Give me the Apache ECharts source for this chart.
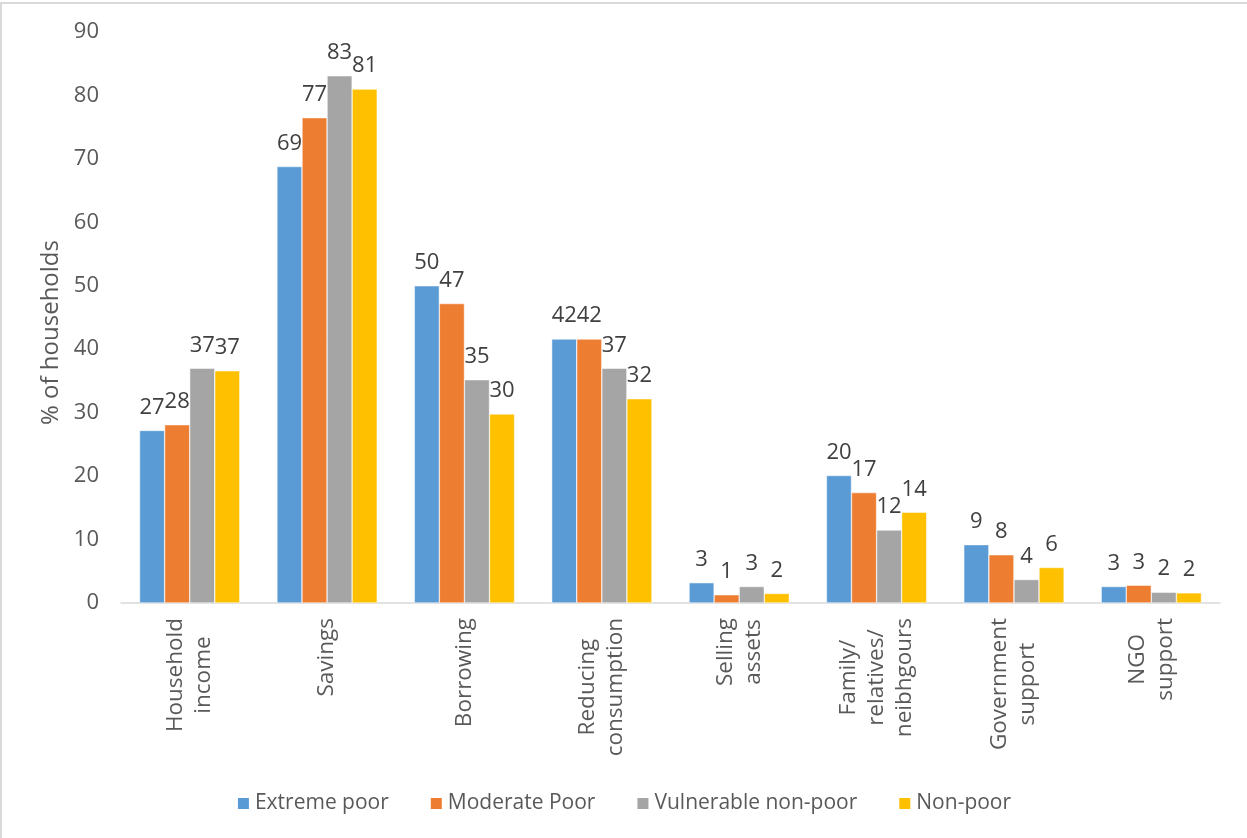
<!DOCTYPE html>
<html>
<head>
<meta charset="utf-8">
<title>Coping strategies by poverty status</title>
<script src="https://cdn.jsdelivr.net/npm/echarts@6/dist/echarts.min.js"></script>
<style>
  html, body { margin: 0; padding: 0; background: #fff; }
  #frame {
    position: absolute; left: 0; top: 2px; width: 1245px; height: 834px;
    border-left: 2px solid #d9d9d9; border-top: 2px solid #d9d9d9;
  }
  #chart { position: absolute; left: 0; top: 0; width: 1247px; height: 838px; }
</style>
</head>
<body>
<div id="frame"></div>
<div id="chart"></div>
<script>
// Coping strategies used by households, by poverty status (% of households)
const categories = [
  'Household\nincome',
  'Savings',
  'Borrowing',
  'Reducing\nconsumption',
  'Selling\nassets',
  'Family/\nrelatives/\nneibhgours',
  'Government\nsupport',
  'NGO\nsupport'
];
const seriesNames = ['Extreme poor', 'Moderate Poor', 'Vulnerable non-poor', 'Non-poor'];
const extremePoor   = [27.2, 68.8, 50.0, 41.6, 3.2, 20.1, 9.2, 2.6];
const moderatePoor  = [28.1, 76.5, 47.2, 41.6, 1.3, 17.4, 7.6, 2.8];
const vulnerable    = [37.0, 83.1, 35.2, 37.0, 2.6, 11.5, 3.7, 1.7];
const nonPoor       = [36.6, 81.0, 29.8, 32.2, 1.5, 14.3, 5.6, 1.6];
const colors = ['#5B9BD5', '#ED7D31', '#A5A5A5', '#FFC000'];
const yMin = 0, yMax = 90, yStep = 10;

const FONT = 'Open Sans';
const seriesData = [extremePoor, moderatePoor, vulnerable, nonPoor];

const chart = echarts.init(document.getElementById('chart'), null, { renderer: 'canvas' });

chart.setOption({
  animation: false,
  textStyle: { fontFamily: FONT },
  grid: { left: 121, right: 27, top: 32, bottom: 235, containLabel: false },
  legend: {
    top: 788,
    left: 'center',
    itemWidth: 13,
    itemHeight: 13,
    itemGap: 40,
    icon: 'rect',
    textStyle: { fontFamily: FONT, fontSize: 21, color: '#595959' },
    data: seriesNames
  },
  xAxis: {
    type: 'category',
    data: categories,
    axisLine: { show: true, lineStyle: { color: '#d9d9d9', width: 1.5 } },
    axisTick: { show: false },
    axisLabel: {
      interval: 0,
      rotate: 90,
      margin: 15,
      color: '#595959',
      fontFamily: FONT,
      fontSize: 22.5,
      lineHeight: 28,
      formatter: function (v) {
        return v.split('\n').map(function (s) { return '{c|' + s + '}'; }).join('\n');
      },
      rich: {
        c: { align: 'center', fontFamily: FONT, fontSize: 22.5, color: '#595959', lineHeight: 28 }
      }
    }
  },
  yAxis: {
    type: 'value',
    min: yMin,
    max: yMax,
    interval: yStep,
    axisLine: { show: false },
    axisTick: { show: false },
    splitLine: { show: false },
    axisLabel: { margin: 22, color: '#595959', fontFamily: FONT, fontSize: 22 },
    name: '% of households',
    nameLocation: 'middle',
    nameGap: 57,
    nameRotate: 90,
    nameTextStyle: { color: '#595959', fontFamily: FONT, fontSize: 24, padding: [0, 30, 0, 0] }
  },
  series: seriesNames.map(function (name, i) {
    return {
      name: name,
      type: 'bar',
      data: seriesData[i],
      barGap: '0%',
      barCategoryGap: '27%',
      itemStyle: { color: colors[i], borderColor: '#ffffff', borderWidth: 0.5 },
      label: {
        show: true,
        position: 'top',
        distance: 12,
        color: '#404040',
        fontFamily: FONT,
        fontSize: 22,
        formatter: function (p) { return String(Math.round(p.value)); }
      }
    };
  })
});
</script>
</body>
</html>
